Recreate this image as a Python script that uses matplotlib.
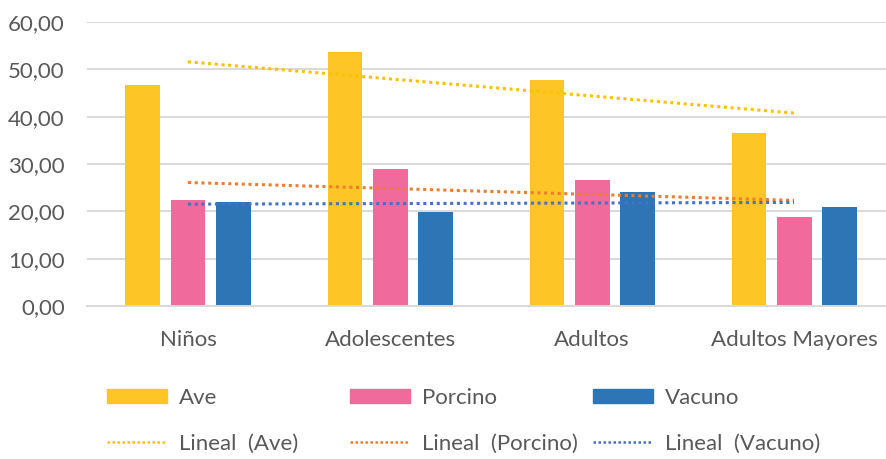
import matplotlib
matplotlib.use('Agg')
import matplotlib.pyplot as plt
import numpy as np
from matplotlib.patches import Patch
from matplotlib.lines import Line2D

# grupos de edad y consumo por tipo de carne
grupos = ['Niños', 'Adolescentes', 'Adultos', 'Adultos Mayores']
ave = [46.7, 53.6, 47.8, 36.6]
porcino = [22.3, 29.0, 26.6, 18.9]
vacuno = [22.0, 19.8, 24.0, 21.0]
series_names = ['Ave', 'Porcino', 'Vacuno']

bar_colors = ['#FDC526', '#F06A9B', '#2E75B6']
trend_colors = ['#FFC000', '#ED7D31', '#4472C4']
gray = '#595959'

plt.rcParams['font.family'] = ['Lato', 'DejaVu Sans']

fig = plt.figure(figsize=(8.87, 4.59), dpi=100)
ax = fig.add_axes([87 / 887, 1 - 306 / 459, 800 / 887, 284 / 459])

x = np.arange(len(grupos))
width = 0.173
step = 0.223
handles_bar = []
handles_line = []
for i, (vals, name) in enumerate(zip([ave, porcino, vacuno], series_names)):
    ax.bar(x + (i - 1) * step, vals, width, color=bar_colors[i], zorder=2)
    handles_bar.append(Patch(color=bar_colors[i], label=name))
    # linea de tendencia lineal
    m, c = np.polyfit(x, vals, 1)
    ax.plot(x, m * x + c, color=trend_colors[i], lw=2.2,
            linestyle=(0, (1, 1.2)), zorder=3)
    handles_line.append(Line2D([], [], color=trend_colors[i], lw=1.8,
                               linestyle=(0, (1, 1.0)), label='Lineal  (%s)' % name))

fs = 16
ax.set_xlim(-0.5, 3.46)
ax.set_ylim(0, 60)
ax.set_yticks(np.arange(0, 61, 10))
ax.set_yticklabels(['%d,00' % v for v in range(0, 61, 10)])
ax.set_xticks(x)
ax.set_xticklabels(grupos)
ax.tick_params(axis='y', length=0, pad=16, labelsize=fs, labelcolor=gray)
ax.tick_params(axis='x', length=0, pad=17, labelsize=fs, labelcolor=gray)
ax.grid(axis='y', color='#D9D9D9', lw=1.4, zorder=0)
for s in ['top', 'right', 'left']:
    ax.spines[s].set_visible(False)
ax.spines['bottom'].set_color('#D9D9D9')
ax.spines['bottom'].set_linewidth(1.4)

# una columna de leyenda por serie
col_x = [107, 350, 593]
for i in range(3):
    leg = fig.legend(handles=[handles_bar[i], handles_line[i]], loc='upper left',
                     bbox_to_anchor=(col_x[i] / 887, 1 - 388 / 459),
                     frameon=False, fontsize=fs, handlelength=2.7,
                     handleheight=0.6, handletextpad=0.55, labelspacing=1.15,
                     borderpad=0, borderaxespad=0, labelcolor=gray)

fig.savefig('out.png', dpi=100)
